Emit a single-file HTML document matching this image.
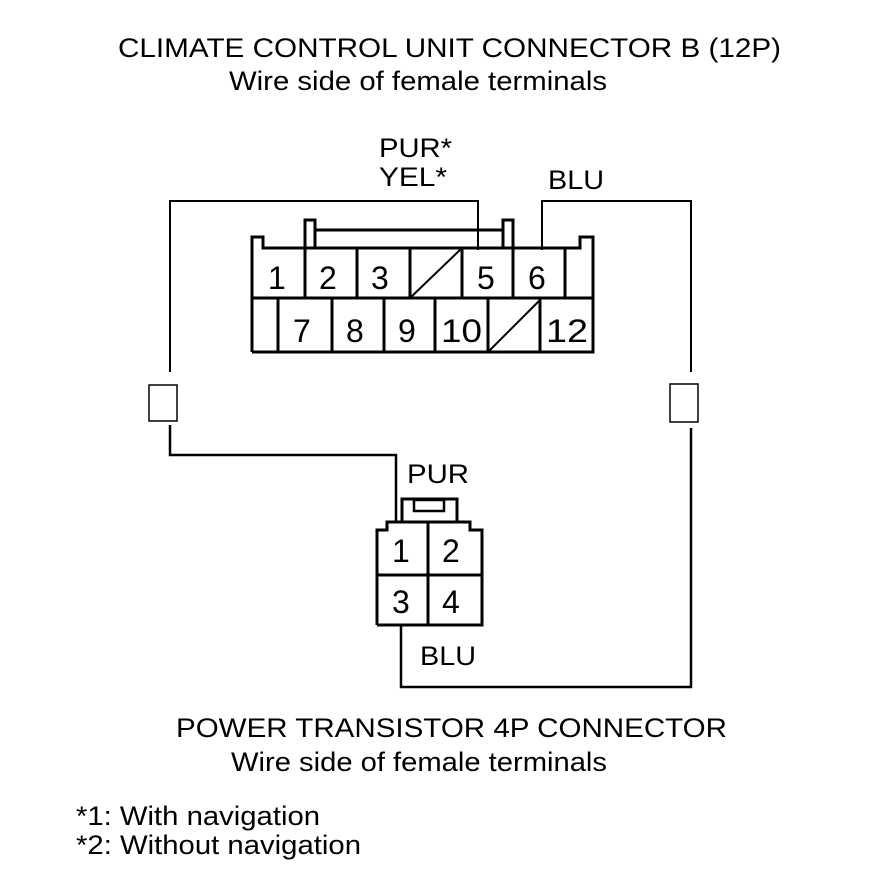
<!DOCTYPE html>
<html><head><style>
html,body{margin:0;padding:0;background:#fff;}
svg{display:block;}
text{font-family:"Liberation Sans",Arial,sans-serif;fill:#000;}
</style></head><body>
<svg width="880" height="892" viewBox="0 0 880 892" xmlns="http://www.w3.org/2000/svg">
<g font-size="27" lengthAdjust="spacingAndGlyphs">
<text x="118" y="57" textLength="663" lengthAdjust="spacingAndGlyphs">CLIMATE CONTROL UNIT CONNECTOR B (12P)</text>
<text x="229" y="90" textLength="378" lengthAdjust="spacingAndGlyphs">Wire side of female terminals</text>
<text x="379" y="157" textLength="73" lengthAdjust="spacingAndGlyphs">PUR*</text>
<text x="379" y="186" textLength="68" lengthAdjust="spacingAndGlyphs">YEL*</text>
<text x="548" y="189" textLength="56" lengthAdjust="spacingAndGlyphs">BLU</text>
<text x="407" y="483" textLength="62" lengthAdjust="spacingAndGlyphs">PUR</text>
<text x="420" y="665" textLength="56" lengthAdjust="spacingAndGlyphs">BLU</text>
<text x="176" y="737" textLength="551" lengthAdjust="spacingAndGlyphs">POWER TRANSISTOR 4P CONNECTOR</text>
<text x="231" y="771" textLength="376" lengthAdjust="spacingAndGlyphs">Wire side of female terminals</text>
<text x="76" y="825" textLength="244" lengthAdjust="spacingAndGlyphs">*1: With navigation</text>
<text x="76" y="854" textLength="285" lengthAdjust="spacingAndGlyphs">*2: Without navigation</text>
</g>
<g fill="none" stroke="#000" stroke-width="2">
<polyline points="170,372 170,201 478,201 478,250"/>
<polyline points="542,250 542,201 691,201 691,372"/>
<rect x="149" y="385" width="28" height="36" stroke-width="1.5"/>
<rect x="670" y="384" width="28" height="38" stroke-width="1.5"/>
<polyline points="170,425 170,455 396,455 396,522" stroke-width="2.5"/>
<polyline points="691,428 691,687 401,687 401,626" stroke-width="2.5"/>
</g>
<g fill="none" stroke="#000" stroke-width="3">
<polyline points="252,352 252,237 263,237 263,248 580,248 580,237 593,237 593,352 252,352 "/>
<line x1="252" y1="298" x2="593" y2="298"/>
<polyline points="305,248 305,220 315,220 315,248"/>
<polyline points="503,248 503,220 513,220 513,248"/>
<line x1="315" y1="230" x2="503" y2="230"/>
<line x1="305" y1="248" x2="305" y2="298"/>
<line x1="357" y1="248" x2="357" y2="298"/>
<line x1="410" y1="248" x2="410" y2="298"/>
<line x1="462" y1="248" x2="462" y2="298"/>
<line x1="513" y1="248" x2="513" y2="298"/>
<line x1="565" y1="248" x2="565" y2="298"/>
<line x1="278" y1="298" x2="278" y2="352"/>
<line x1="332" y1="298" x2="332" y2="352"/>
<line x1="384" y1="298" x2="384" y2="352"/>
<line x1="435" y1="298" x2="435" y2="352"/>
<line x1="488" y1="298" x2="488" y2="352"/>
<line x1="540" y1="298" x2="540" y2="352"/>
<line x1="410" y1="298" x2="462" y2="248" stroke-width="2"/>
<line x1="488" y1="352" x2="540" y2="300" stroke-width="2"/>
<polyline points="377,625 377,530 387,530 387,522 470,522 470,530 482,530 482,625 377,625"/>
<line x1="377" y1="575" x2="482" y2="575"/>
<line x1="428" y1="522" x2="428" y2="625"/>
<polyline points="402,522 402,499 457,499 457,522"/>
<rect x="414" y="500" width="30" height="11" stroke-width="2.5"/>
</g>
<g font-size="32">
<text x="268" y="289">1</text>
<text x="319" y="289">2</text>
<text x="371" y="289">3</text>
<text x="477" y="289">5</text>
<text x="528" y="289">6</text>
<text x="293" y="342">7</text>
<text x="346" y="342">8</text>
<text x="398" y="342">9</text>
<text x="441" y="342" textLength="41" lengthAdjust="spacingAndGlyphs">10</text>
<text x="546" y="342" textLength="42" lengthAdjust="spacingAndGlyphs">12</text>
<text x="392" y="562">1</text>
<text x="442" y="562">2</text>
<text x="392" y="613">3</text>
<text x="442" y="613">4</text>
</g>
</svg>
</body></html>
